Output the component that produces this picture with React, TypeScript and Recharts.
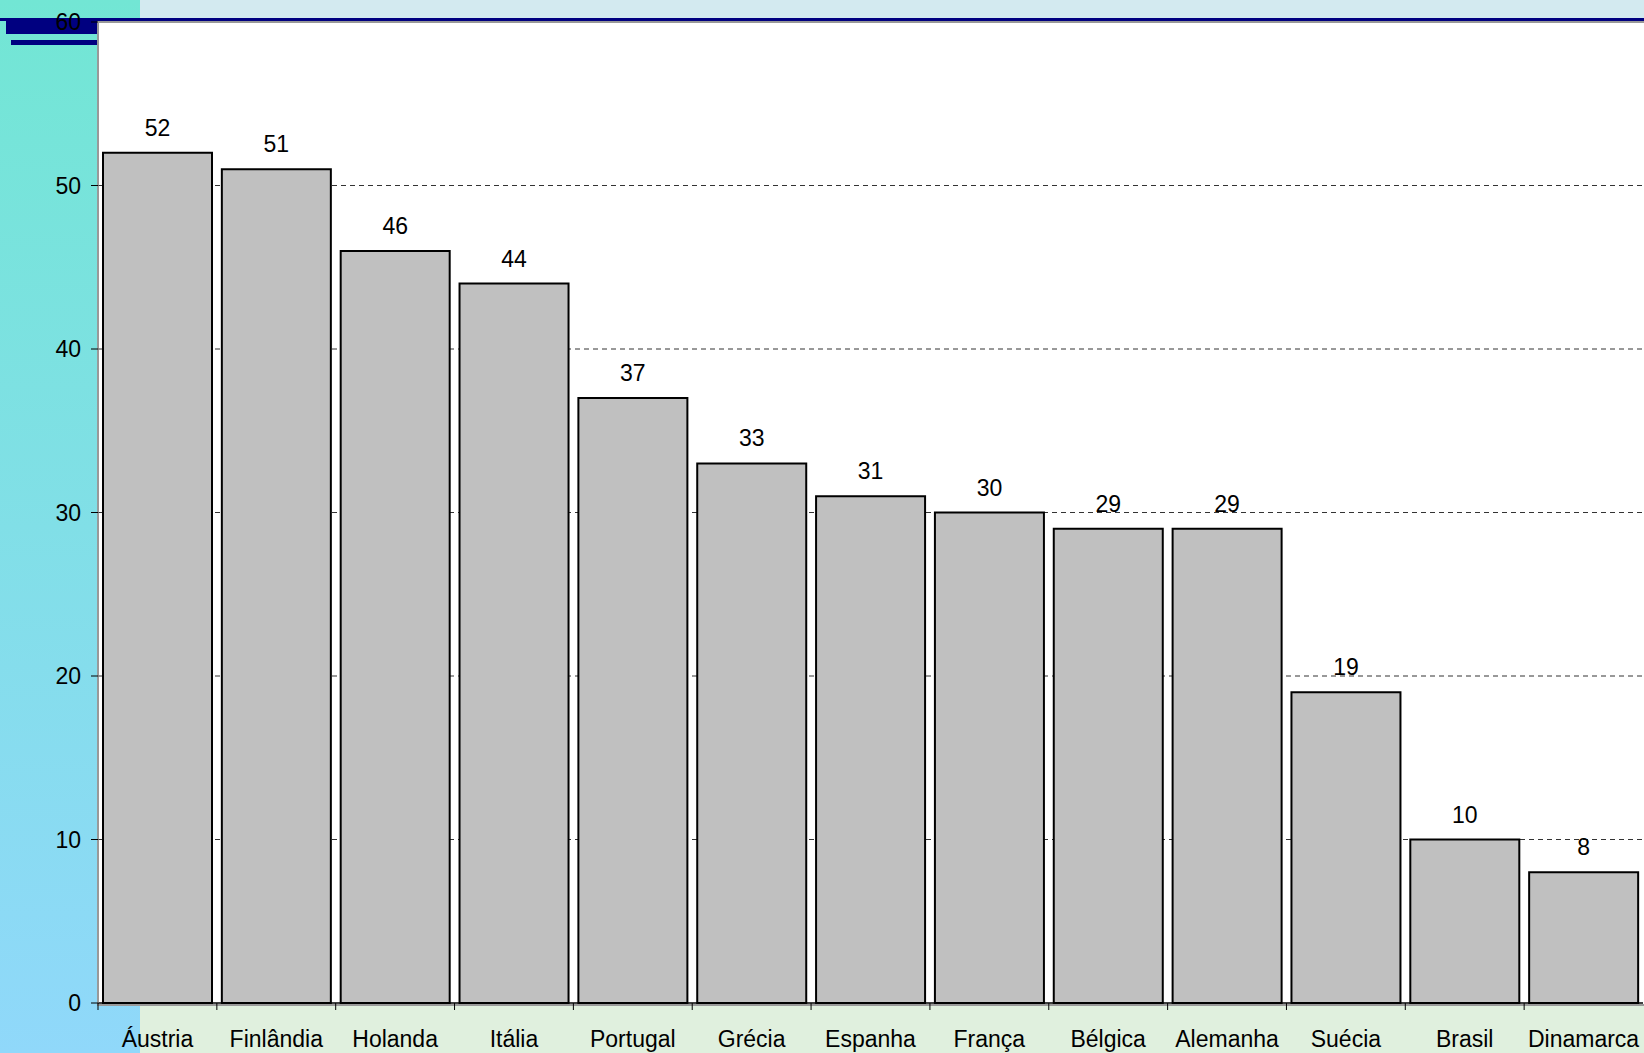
import React from 'react'
import { BarChart, Bar, XAxis, YAxis, CartesianGrid, LabelList } from 'recharts'

const countries = ['Áustria', 'Finlândia', 'Holanda', 'Itália', 'Portugal', 'Grécia', 'Espanha', 'França', 'Bélgica', 'Alemanha', 'Suécia', 'Brasil', 'Dinamarca']
const values = [52, 51, 46, 44, 37, 33, 31, 30, 29, 29, 19, 10, 8]
const yTicks = [0, 10, 20, 30, 40, 50, 60]
const gridLines = [10, 20, 30, 40, 50]

const data = countries.map((name, i) => ({ name, value: values[i] }))

const W = 1644
const H = 1053
const PLOT_LEFT = 98
const PLOT_TOP = 22
const PLOT_RIGHT = 1643
const PLOT_BOTTOM = 1003
const BAND = (PLOT_RIGHT - PLOT_LEFT) / countries.length
const FONT = '"Liberation Sans", Arial, sans-serif'

function XTick(props: any) {
  const { x, y, payload } = props
  return (
    <g>
      <line x1={x - BAND / 2} x2={x - BAND / 2} y1={y - 8} y2={y - 1} stroke="#000" strokeWidth={1} />
      <text x={x} y={y + 36} textAnchor="middle" fontSize={23} fontFamily={FONT} fill="#000">{payload.value}</text>
    </g>
  )
}

export default function App() {
  return (
    <div style={{ position: 'absolute', left: 0, top: 0, width: W, height: H, overflow: 'hidden', background: '#d3eaf0' }}>
      {/* slide decoration */}
      <div style={{ position: 'absolute', left: 0, top: 0, width: 140, height: H, background: 'linear-gradient(#72e6d4, #90d8fa)' }} />
      <div style={{ position: 'absolute', left: 140, top: PLOT_BOTTOM + 1, width: W - 140, height: H - PLOT_BOTTOM, background: '#e0f0de' }} />
      <div style={{ position: 'absolute', left: 0, top: 18, width: W, height: 3, background: '#000080' }} />
      <div style={{ position: 'absolute', left: 6, top: 18, width: 92, height: 16, background: '#000080' }} />
      <div style={{ position: 'absolute', left: 11, top: 40, width: 87, height: 5, background: '#000080' }} />
      <div style={{ position: 'absolute', left: PLOT_LEFT - 1, top: PLOT_TOP - 1, width: PLOT_RIGHT - PLOT_LEFT, height: PLOT_BOTTOM - PLOT_TOP, background: '#fff', border: '2px solid #999' }} />
      <div style={{ position: 'absolute', left: 0, top: 0 }}>
        <BarChart width={W} height={H} data={data} margin={{ top: PLOT_TOP, right: W - PLOT_RIGHT, left: 0, bottom: 0 }} barCategoryGap={5}>
          <CartesianGrid vertical={false} horizontalValues={gridLines} stroke="#333" strokeDasharray="5 4" />
          <XAxis dataKey="name" height={H - PLOT_BOTTOM} axisLine={{ stroke: '#000', strokeWidth: 1.5 }} tickLine={false} interval={0} tick={<XTick />} />
          <YAxis domain={[0, 60]} ticks={yTicks} width={PLOT_LEFT} axisLine={{ stroke: '#999', strokeWidth: 1 }} tickLine={{ stroke: '#000' }} tickSize={7} tickMargin={10} tick={{ fontSize: 23, fontFamily: FONT, fill: '#000' }} />
          <Bar dataKey="value" fill="#c0c0c0" stroke="#000" strokeWidth={2} isAnimationActive={false}>
            <LabelList dataKey="value" position="top" offset={17} fontSize={23} fontFamily={FONT} fill="#000" />
          </Bar>
        </BarChart>
      </div>
    </div>
  )
}
